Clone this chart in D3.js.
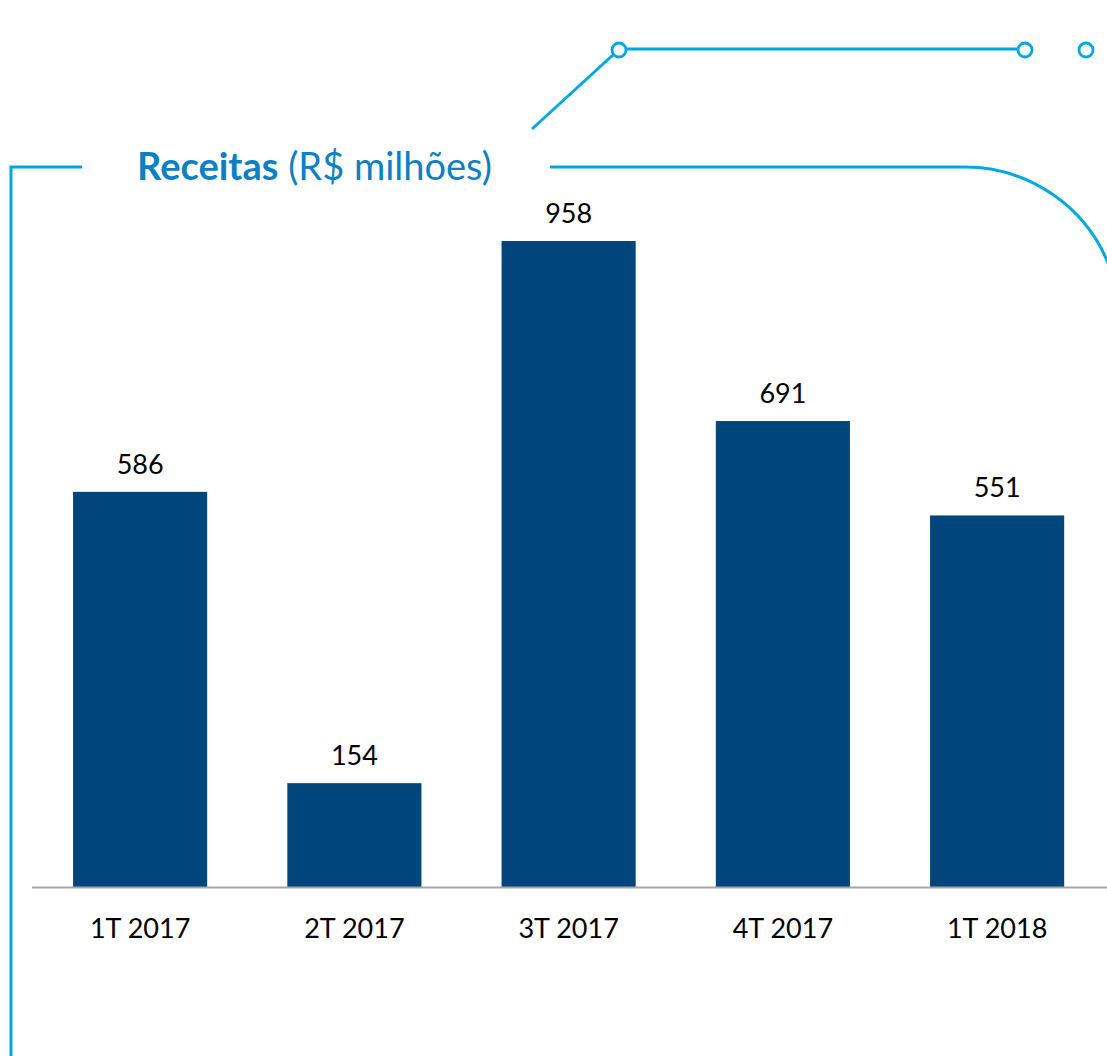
<!DOCTYPE html>
<html>
<head>
<meta charset="utf-8">
<script src="https://cdn.jsdelivr.net/npm/d3@7"></script>
<style>
  html, body { margin: 0; padding: 0; background: #ffffff; }
  svg { display: block; }
</style>
</head>
<body>
<script>
const categories = ["1T 2017", "2T 2017", "3T 2017", "4T 2017", "1T 2018"];
const values = [586, 154, 958, 691, 551];
const titleBold = "Receitas";
const titleRest = " (R$ milhões)";

const W = 1107, H = 1056;
const frameColor = "#00a8e1";
const titleColor = "#0b80c2";
const barColor = "#00467c";
const fontFamily = "Lato, 'Open Sans', sans-serif";

const svg = d3.select("body").append("svg").attr("width", W).attr("height", H);

const baseY = 887;
const x = d3.scaleBand().domain(categories).range([33, 1104.25]).paddingInner(0.374).paddingOuter(0.187);
const y = d3.scaleLinear().domain([0, 958]).range([baseY, 241]);

// decorative frame
const deco = svg.append("g").attr("fill", "none").attr("stroke", frameColor).attr("stroke-width", 3);
deco.append("path").attr("d", "M11,1056 L11,167 L82,167");
deco.append("path").attr("d", "M550,167 L965,167 A155,155 0 0 1 1110,268");
deco.append("path").attr("d", "M532,129 L614,54");
deco.append("line").attr("x1", 626).attr("x2", 1018).attr("y1", 49).attr("y2", 49);
[[619, 50], [1025, 50], [1086, 50]].forEach(([cx, cy]) => {
  deco.append("circle").attr("cx", cx).attr("cy", cy).attr("r", 7).attr("fill", "#fff").attr("stroke-width", 2.8);
});

// title
const title = svg.append("text").attr("x", 137).attr("y", 180)
  .attr("font-family", fontFamily).attr("font-size", 38).attr("fill", titleColor);
title.append("tspan").attr("font-weight", "bold").text(titleBold);
title.append("tspan").text(titleRest);

// bars
svg.append("g").selectAll("rect").data(values).join("rect")
  .attr("x", (d, i) => x(categories[i]))
  .attr("y", d => y(d))
  .attr("width", x.bandwidth())
  .attr("height", d => baseY - y(d))
  .attr("fill", barColor);

// value labels
svg.append("g").selectAll("text").data(values).join("text")
  .attr("x", (d, i) => x(categories[i]) + x.bandwidth() / 2)
  .attr("y", d => y(d) - 18)
  .attr("text-anchor", "middle")
  .attr("font-family", fontFamily).attr("font-size", 27).attr("fill", "#000")
  .text(d => d);

// axis
const axis = svg.append("g").attr("transform", `translate(0,${baseY})`)
  .call(d3.axisBottom(x).tickSize(0).tickPadding(32));
axis.select(".domain").remove();
axis.append("line").attr("x1", 32).attr("x2", W).attr("y1", 0.5).attr("y2", 0.5)
  .attr("stroke", "#a6a6a6").attr("stroke-width", 2);
axis.selectAll(".tick text").attr("font-family", fontFamily).attr("font-size", 27).attr("fill", "#000");
</script>
</body>
</html>
